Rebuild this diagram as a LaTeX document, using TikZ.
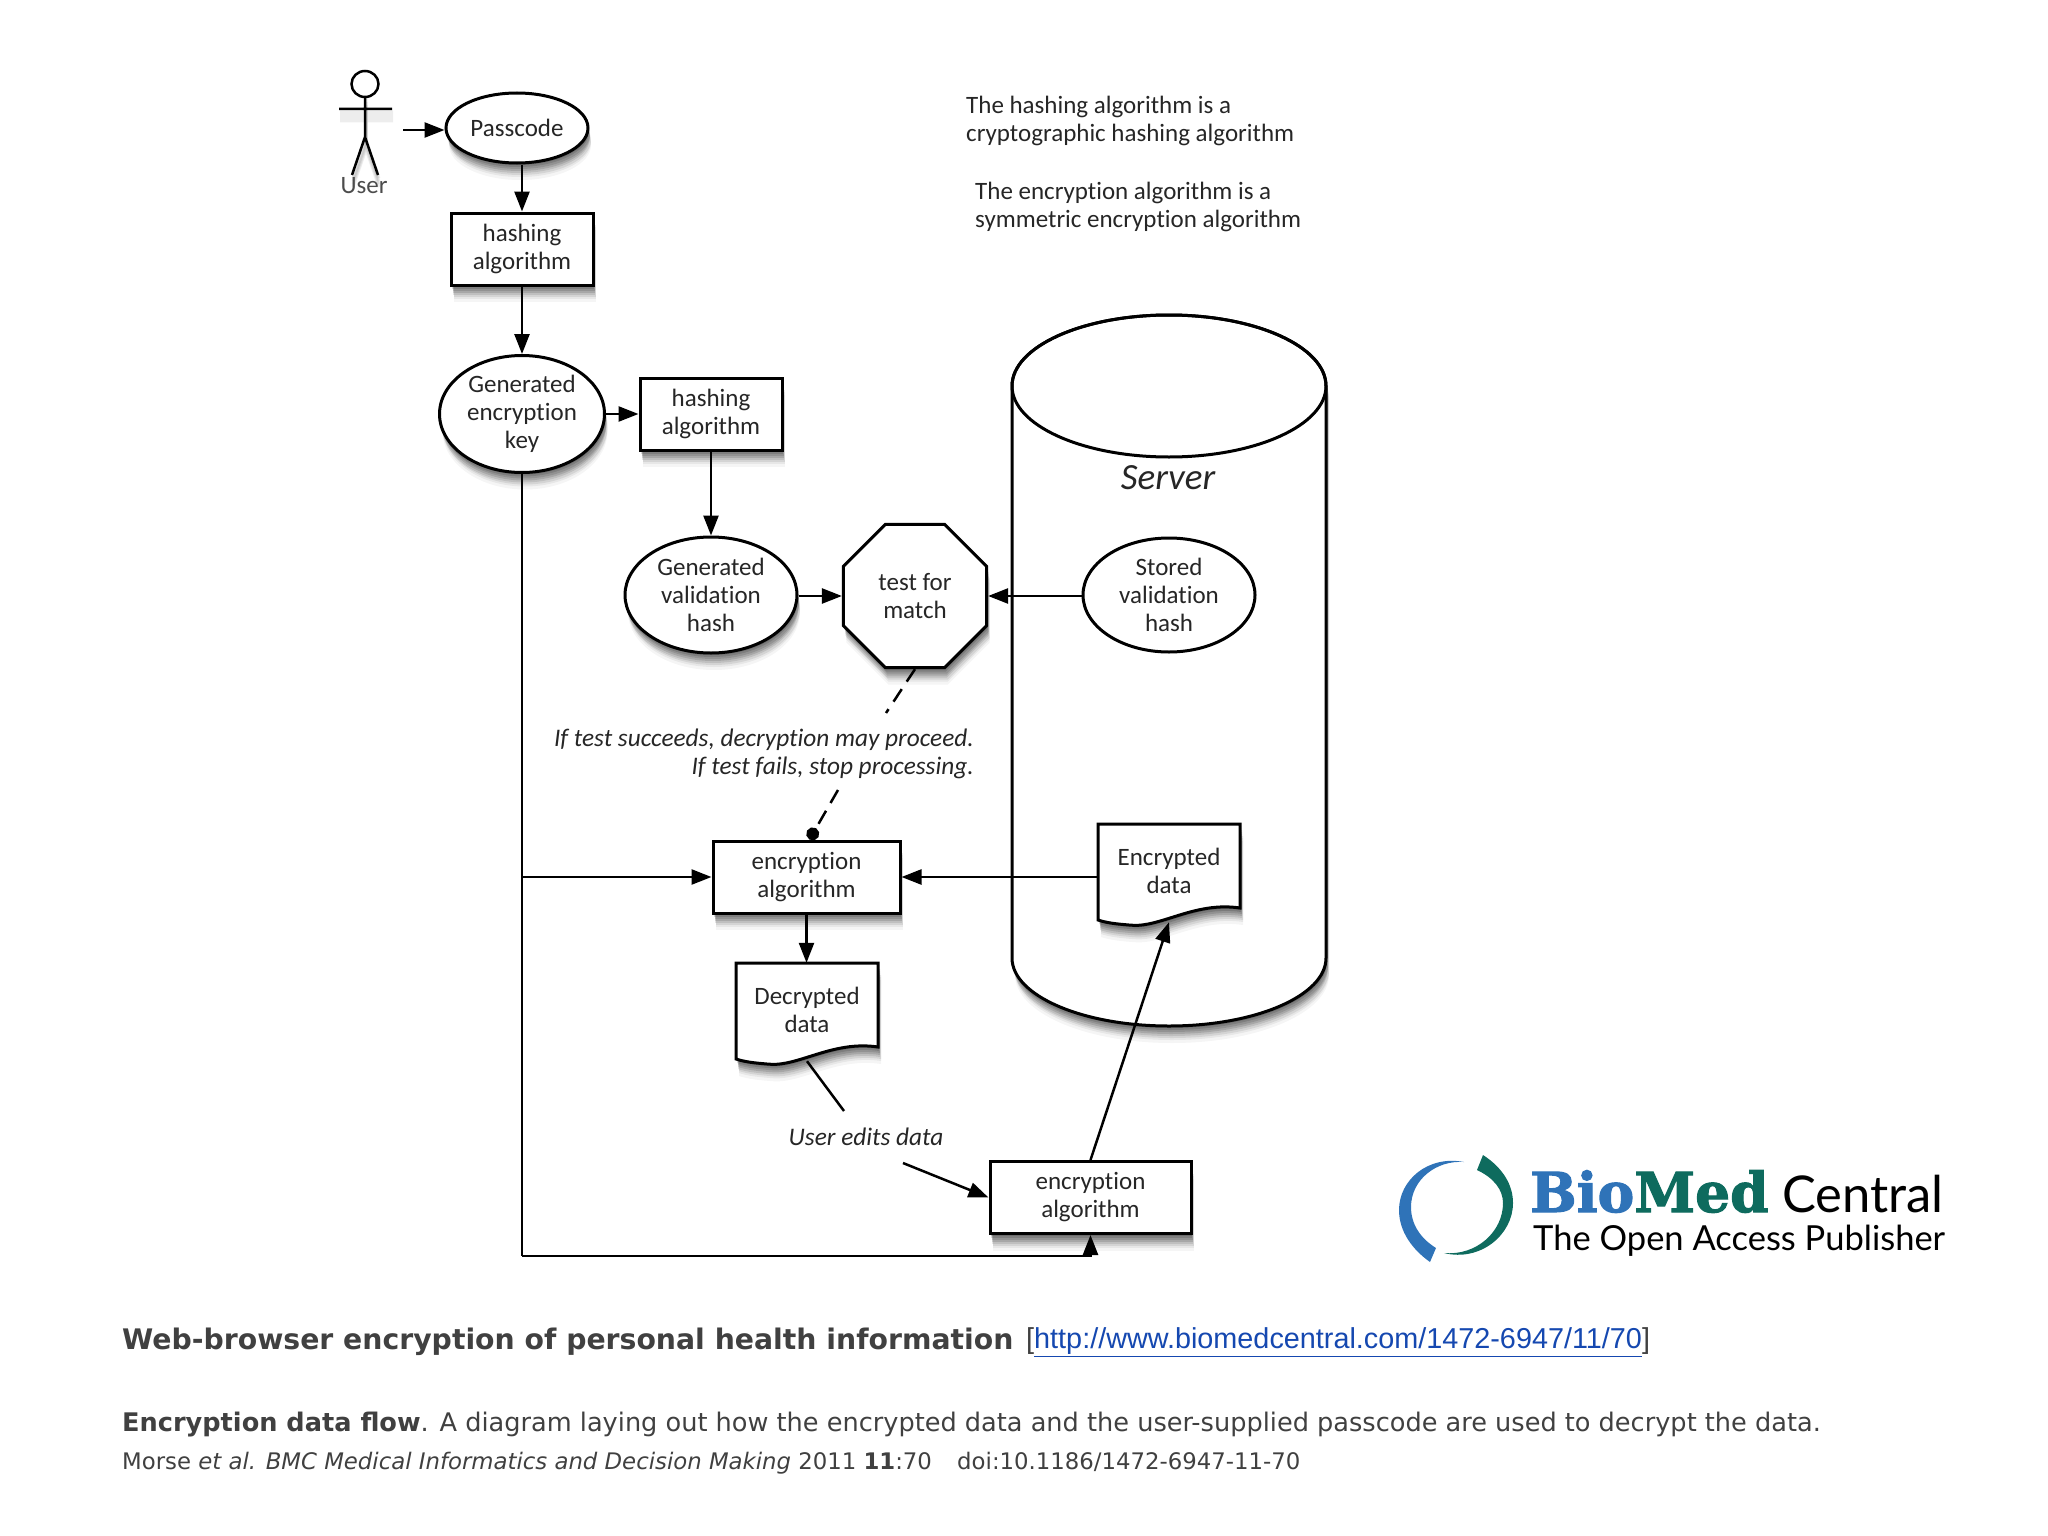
\documentclass[tikz,border=0pt]{standalone}
\usepackage{fontspec}
\usepackage{xcolor}
\usetikzlibrary{shapes.geometric}
\usetikzlibrary{shadows}
\usetikzlibrary{arrows.meta}
\setmainfont{DejaVu Sans}
\newfontfamily\diagfont[Ligatures=NoCommon]{Carlito}
\newfontfamily\urlfont{Liberation Sans}
\newfontfamily\logoserif[BoldFeatures={FakeBold=2}]{DejaVu Serif}
\newfontfamily\logosans{Lato}
\definecolor{captiongray}{HTML}{404040}
\definecolor{linkblue}{HTML}{1548B0}
\definecolor{bmcblue}{HTML}{2F73B8}
\definecolor{bmcgreen}{HTML}{0E6B5E}
\tikzset{
   softshadow/.style={
      drop shadow={shadow xshift=1pt,shadow yshift=-2pt,opacity=.14,fill=black},
      drop shadow={shadow xshift=1pt,shadow yshift=-4pt,opacity=.14,fill=black},
      drop shadow={shadow xshift=2pt,shadow yshift=-6pt,opacity=.13,fill=black},
      drop shadow={shadow xshift=2pt,shadow yshift=-8pt,opacity=.12,fill=black},
      drop shadow={shadow xshift=2pt,shadow yshift=-10pt,opacity=.1,fill=black},
      drop shadow={shadow xshift=3pt,shadow yshift=-12pt,opacity=.08,fill=black},
      drop shadow={shadow xshift=3pt,shadow yshift=-14pt,opacity=.06,fill=black},
      drop shadow={shadow xshift=3pt,shadow yshift=-17pt,opacity=.04,fill=black}
   },
   label/.style={font=\diagfont\fontsize{25}{28}\selectfont,align=center,inner sep=0pt,text=black!85},
   note/.style={label,align=left,anchor=west},
   remark/.style={label,font=\diagfont\itshape\fontsize{25.3}{28}\selectfont},
   procbox/.style={label,draw,line width=3pt,fill=white,rectangle,minimum height=72pt},
   bubble/.style={label,draw,line width=3pt,fill=white,ellipse},
   docpath/.style={draw,line width=3pt,fill=white},
   flow/.style={line width=2.5pt,-{Triangle[length=20pt,width=15pt]}},
   caption/.style={anchor=west,inner sep=0pt,text=captiongray}
}
\newcommand{\docshape}[2]{
   \path[docpath,softshadow,shift={(#1,#2)}] (-71,-49) -- (71,-49) -- (71,35)
      .. controls (25,28) and (-10,56) .. (-40,52)
      .. controls (-52,51) and (-62,50) .. (-71,47) -- cycle;
}
\newcommand{\stickman}{
   (365,96) -- (365,137) (339,109) -- (392,109) (352,175) -- (365,137) -- (378,175)
}
\begin{document}
\begin{tikzpicture}[x=1pt,y=-1pt]
   \useasboundingbox (0,0) rectangle (2048,1536);

   % server
   \path[docpath,softshadow] (1012,386) -- (1012,958) arc[start angle=180,end angle=360,x radius=157pt,y radius=68pt]
      -- (1326,386) arc[start angle=0,end angle=180,x radius=157pt,y radius=71pt] -- cycle;
   \draw[line width=3pt] (1169,386) ellipse[x radius=157pt,y radius=71pt];
   \node[remark,font=\diagfont\itshape\fontsize{37}{38}\selectfont] (server) at (1168,478) {Server};

   % user
   \foreach \s in {3,6,9,12}
      \draw[line width=3pt,opacity=.07,yshift=-\s pt,xshift=1pt] \stickman;
   \draw[line width=2.5pt] \stickman;
   \node[draw,line width=2.5pt,fill=white,ellipse,inner sep=0pt,minimum width=27pt,minimum height=26pt] (head) at (365,84) {};
   \node[label,text=black!70] (user) at (364,186) {User};
   \coordinate (userout) at (403,130);

   \node[bubble,softshadow,minimum width=142pt,minimum height=70pt] (passcode) at (517,128) {Passcode};
   \node[procbox,softshadow,minimum width=142pt] (hash1) at (522,249) {hashing\\algorithm};
   \node[bubble,softshadow,minimum width=165pt,minimum height=117pt] (genkey) at (522,414) {Generated\\encryption\\key};
   \node[procbox,softshadow,minimum width=142pt] (hash2) at (711,414) {hashing\\algorithm};
   \node[bubble,softshadow,minimum width=172pt,minimum height=116pt] (genhash) at (711,595) {Generated\\validation\\hash};
   \node[label,draw,line width=3pt,fill=white,softshadow,regular polygon,regular polygon sides=8,minimum size=155pt] (test) at (915,596) {test for\\match};
   \node[bubble,minimum width=172pt,minimum height=114pt] (storedhash) at (1169,595) {Stored\\validation\\hash};

   \node[note] (note1) at (966,121) {The hashing algorithm is a\\cryptographic hashing algorithm};
   \node[note] (note2) at (975,207) {The encryption algorithm is a\\symmetric encryption algorithm};

   \node[remark,align=right,anchor=east] (iftest) at (974,754) {If test succeeds, decryption may proceed.\\If test fails, stop processing.};
   \coordinate (dasha) at (886,713);
   \coordinate (dashb) at (838,790);

   \node[procbox,softshadow,minimum width=187pt] (enc1) at (806.5,877) {encryption\\algorithm};
   \docshape{807}{1012}
   \node[label,minimum width=142pt,minimum height=98pt] (decrypted) at (807,1010) {Decrypted\\data};
   \docshape{1169}{873}
   \node[label,minimum width=142pt,minimum height=98pt] (encrypted) at (1169,871) {Encrypted\\data};
   \node[remark] (edits) at (866,1137) {User edits data};
   \coordinate (editsa) at (844,1111);
   \coordinate (editsb) at (903,1163);
   \node[procbox,softshadow,minimum width=201pt] (enc2) at (1090.5,1197.5) {encryption\\algorithm};
   \coordinate (corner) at (522,1256);

   \draw[flow] (userout) -- (passcode.west |- userout);
   \draw[flow] (passcode.south -| hash1.north) -- (hash1.north);
   \draw[flow] (hash1) -- (genkey);
   \draw[flow] (genkey) -- (hash2);
   \draw[flow] (hash2) -- (genhash);
   \draw[flow] (genhash.east |- test.west) -- (test.west);
   \draw[flow] (storedhash.west |- test.east) -- (test.east);
   \draw[line width=2.5pt,dash pattern=on 15pt off 9pt] (test.south) -- (dasha);
   \draw[line width=2.5pt,dash pattern=on 15pt off 9pt,-{Circle[length=13pt]}] (dashb) -- ([xshift=3pt]enc1.north);
   \draw[line width=2.5pt] (genkey.south) -- (corner);
   \draw[flow] (genkey.south |- enc1.west) -- (enc1.west);
   \draw[flow] (encrypted.west |- enc1.east) -- (enc1.east);
   \draw[flow] (enc1) -- ([yshift=-2pt]enc1.south |- decrypted.north);
   \draw[line width=2.5pt] ([yshift=-2pt]decrypted.south) -- (editsa);
   \draw[flow] (editsb) -- (enc2.west);
   \draw[flow] (enc2.north) -- ([yshift=-2pt]encrypted.south);
   \draw[flow] (corner) -| (enc2.south);

   % logo
   \fill[bmcblue] (1464,1162) .. controls (1428,1155) and (1399,1180) .. (1399,1210)
      .. controls (1399,1232) and (1413,1250) .. (1430,1262) -- (1436,1248)
      .. controls (1420,1238) and (1411,1224) .. (1411,1207) .. controls (1411,1180) and (1436,1160) .. (1464,1162) -- cycle;
   \fill[bmcgreen] (1483,1155) .. controls (1503,1168) and (1513,1185) .. (1513,1203)
      .. controls (1513,1235) and (1480,1262) .. (1444,1253)
      .. controls (1476,1256) and (1503,1232) .. (1503,1203) .. controls (1503,1190) and (1494,1178) .. (1477,1170) -- cycle;
   \node[anchor=base west,inner sep=0pt,font=\logoserif\bfseries\fontsize{55}{55}\selectfont] (bmc) at (1530,1212)
      {\textcolor{bmcblue}{Bio}\textcolor{bmcgreen}{Med}};
   \node[anchor=base west,inner sep=0pt,font=\logosans\fontsize{50.7}{54}\selectfont] (central) at (1782,1212) {Central};
   \node[anchor=base west,inner sep=0pt,font=\logosans\fontsize{34.5}{36}\selectfont] (publisher) at (1533,1250) {The Open Access Publisher};

   % caption
   \node[caption,font=\fontsize{28.3}{30}\selectfont] (title) at (122,1342)
      {\textbf{Web-browser encryption of personal health information}};
   \node[caption,font=\urlfont\fontsize{28.8}{30}\selectfont] (url) at (1026,1342)
      {[\textcolor{linkblue}{\underline{http://www.biomedcentral.com/1472-6947/11/70}}]};
   \node[caption,font=\fontsize{25.6}{28}\selectfont] (desc) at (122,1425)
      {\textbf{Encryption data flow}. A diagram laying out how the encrypted data and the user-supplied passcode are used to decrypt the data.};
   \node[caption,font=\fontsize{22.8}{26}\selectfont] (cite) at (122,1463)
      {Morse \textit{et al. BMC Medical Informatics and Decision Making} 2011 \textbf{11}:70 \hspace{18pt}doi:10.1186/1472-6947-11-70};
\end{tikzpicture}
\end{document}
